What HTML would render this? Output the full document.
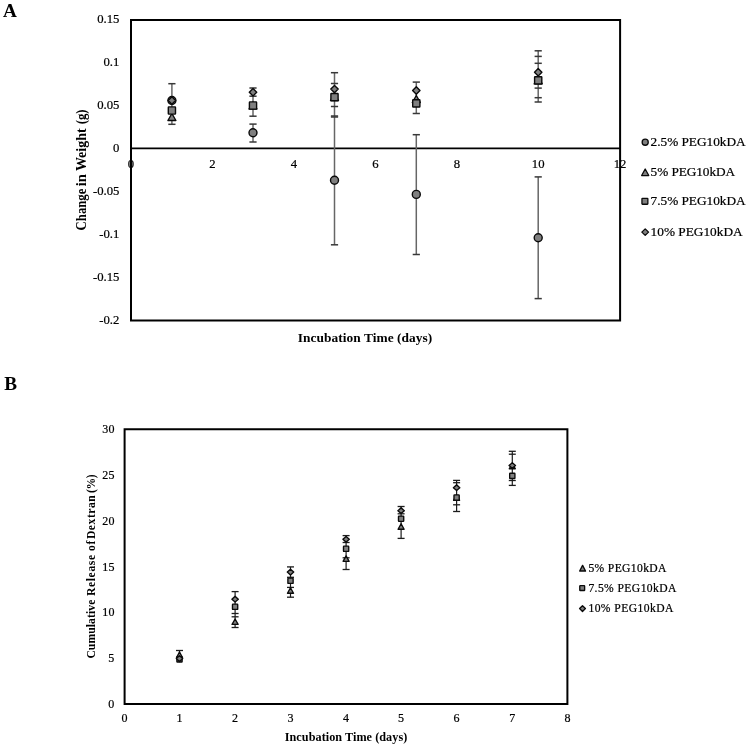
<!DOCTYPE html>
<html><head><meta charset="utf-8"><style>
html,body{margin:0;padding:0;background:#fff;}
svg{display:block;will-change:transform;}
text{font-family:"Liberation Serif",serif;fill:#000;stroke:#000;stroke-width:0.22px;}
text[font-weight=bold]{stroke-width:0;}
</style></head><body>
<svg width="750" height="746" viewBox="0 0 750 746">
<rect width="750" height="746" fill="#fff"/>
<path d="M131 20 L620.1 20 L620.1 320.6 L131 320.6 Z" fill="none" stroke="#000" stroke-width="2"/>
<line x1="131" y1="148.35" x2="620" y2="148.35" stroke="#000" stroke-width="1.85"/>
<line x1="171.90" y1="83.70" x2="171.90" y2="124.30" stroke="#666666" stroke-width="1.5"/>
<line x1="168.30" y1="83.70" x2="175.50" y2="83.70" stroke="#383838" stroke-width="1.5"/>
<line x1="168.30" y1="124.30" x2="175.50" y2="124.30" stroke="#383838" stroke-width="1.5"/>
<line x1="253.00" y1="88.00" x2="253.00" y2="116.20" stroke="#666666" stroke-width="1.5"/>
<line x1="253.00" y1="124.10" x2="253.00" y2="142.00" stroke="#666666" stroke-width="1.5"/>
<line x1="249.40" y1="88.00" x2="256.60" y2="88.00" stroke="#383838" stroke-width="1.5"/>
<line x1="249.40" y1="96.20" x2="256.60" y2="96.20" stroke="#383838" stroke-width="1.5"/>
<line x1="249.40" y1="116.20" x2="256.60" y2="116.20" stroke="#383838" stroke-width="1.5"/>
<line x1="249.40" y1="124.10" x2="256.60" y2="124.10" stroke="#383838" stroke-width="1.5"/>
<line x1="249.40" y1="142.00" x2="256.60" y2="142.00" stroke="#383838" stroke-width="1.5"/>
<line x1="334.50" y1="72.70" x2="334.50" y2="244.80" stroke="#666666" stroke-width="1.5"/>
<line x1="330.90" y1="72.70" x2="338.10" y2="72.70" stroke="#383838" stroke-width="1.5"/>
<line x1="330.90" y1="83.50" x2="338.10" y2="83.50" stroke="#383838" stroke-width="1.5"/>
<line x1="330.90" y1="106.50" x2="338.10" y2="106.50" stroke="#383838" stroke-width="1.5"/>
<line x1="330.90" y1="116.00" x2="338.10" y2="116.00" stroke="#383838" stroke-width="1.5"/>
<line x1="330.90" y1="117.00" x2="338.10" y2="117.00" stroke="#383838" stroke-width="1.5"/>
<line x1="330.90" y1="244.80" x2="338.10" y2="244.80" stroke="#383838" stroke-width="1.5"/>
<line x1="416.30" y1="82.10" x2="416.30" y2="113.50" stroke="#666666" stroke-width="1.5"/>
<line x1="416.30" y1="134.70" x2="416.30" y2="254.50" stroke="#666666" stroke-width="1.5"/>
<line x1="412.70" y1="82.10" x2="419.90" y2="82.10" stroke="#383838" stroke-width="1.5"/>
<line x1="412.70" y1="113.50" x2="419.90" y2="113.50" stroke="#383838" stroke-width="1.5"/>
<line x1="412.70" y1="134.70" x2="419.90" y2="134.70" stroke="#383838" stroke-width="1.5"/>
<line x1="412.70" y1="254.50" x2="419.90" y2="254.50" stroke="#383838" stroke-width="1.5"/>
<line x1="538.20" y1="50.80" x2="538.20" y2="102.00" stroke="#666666" stroke-width="1.5"/>
<line x1="538.20" y1="176.90" x2="538.20" y2="298.60" stroke="#666666" stroke-width="1.5"/>
<line x1="534.60" y1="50.80" x2="541.80" y2="50.80" stroke="#383838" stroke-width="1.5"/>
<line x1="534.60" y1="56.40" x2="541.80" y2="56.40" stroke="#383838" stroke-width="1.5"/>
<line x1="534.60" y1="63.30" x2="541.80" y2="63.30" stroke="#383838" stroke-width="1.5"/>
<line x1="534.60" y1="88.10" x2="541.80" y2="88.10" stroke="#383838" stroke-width="1.5"/>
<line x1="534.60" y1="97.70" x2="541.80" y2="97.70" stroke="#383838" stroke-width="1.5"/>
<line x1="534.60" y1="102.00" x2="541.80" y2="102.00" stroke="#383838" stroke-width="1.5"/>
<line x1="534.60" y1="176.90" x2="541.80" y2="176.90" stroke="#383838" stroke-width="1.5"/>
<line x1="534.60" y1="298.60" x2="541.80" y2="298.60" stroke="#383838" stroke-width="1.5"/>
<circle cx="171.90" cy="100.50" r="4.00" fill="#7f7f7f" stroke="#0a0a0a" stroke-width="1.4"/>
<path d="M171.90 113.50L175.90 120.50L167.90 120.50Z" fill="#7f7f7f" stroke="#0a0a0a" stroke-width="1.4" stroke-linejoin="round"/>
<rect x="168.30" y="106.90" width="7.20" height="7.20" rx="0.5" fill="#7f7f7f" stroke="#0a0a0a" stroke-width="1.4"/>
<path d="M171.90 96.80L175.60 100.50L171.90 104.20L168.20 100.50Z" fill="#7f7f7f" stroke="#0a0a0a" stroke-width="1.4" stroke-linejoin="round"/>
<circle cx="253.00" cy="132.80" r="4.00" fill="#7f7f7f" stroke="#0a0a0a" stroke-width="1.4"/>
<path d="M253.00 102.00L257.00 109.00L249.00 109.00Z" fill="#7f7f7f" stroke="#0a0a0a" stroke-width="1.4" stroke-linejoin="round"/>
<rect x="249.40" y="101.90" width="7.20" height="7.20" rx="0.5" fill="#7f7f7f" stroke="#0a0a0a" stroke-width="1.4"/>
<path d="M253.00 88.50L256.70 92.20L253.00 95.90L249.30 92.20Z" fill="#7f7f7f" stroke="#0a0a0a" stroke-width="1.4" stroke-linejoin="round"/>
<circle cx="334.50" cy="180.30" r="4.00" fill="#7f7f7f" stroke="#0a0a0a" stroke-width="1.4"/>
<path d="M334.50 93.60L338.50 100.60L330.50 100.60Z" fill="#7f7f7f" stroke="#0a0a0a" stroke-width="1.4" stroke-linejoin="round"/>
<rect x="330.90" y="93.50" width="7.20" height="7.20" rx="0.5" fill="#7f7f7f" stroke="#0a0a0a" stroke-width="1.4"/>
<path d="M334.50 85.40L338.20 89.10L334.50 92.80L330.80 89.10Z" fill="#7f7f7f" stroke="#0a0a0a" stroke-width="1.4" stroke-linejoin="round"/>
<circle cx="416.30" cy="194.40" r="4.00" fill="#7f7f7f" stroke="#0a0a0a" stroke-width="1.4"/>
<path d="M416.30 95.50L420.30 102.50L412.30 102.50Z" fill="#7f7f7f" stroke="#0a0a0a" stroke-width="1.4" stroke-linejoin="round"/>
<rect x="412.70" y="99.80" width="7.20" height="7.20" rx="0.5" fill="#7f7f7f" stroke="#0a0a0a" stroke-width="1.4"/>
<path d="M416.30 86.80L420.00 90.50L416.30 94.20L412.60 90.50Z" fill="#7f7f7f" stroke="#0a0a0a" stroke-width="1.4" stroke-linejoin="round"/>
<circle cx="538.20" cy="237.80" r="4.00" fill="#7f7f7f" stroke="#0a0a0a" stroke-width="1.4"/>
<path d="M538.20 76.90L542.20 83.90L534.20 83.90Z" fill="#7f7f7f" stroke="#0a0a0a" stroke-width="1.4" stroke-linejoin="round"/>
<rect x="534.60" y="76.80" width="7.20" height="7.20" rx="0.5" fill="#7f7f7f" stroke="#0a0a0a" stroke-width="1.4"/>
<path d="M538.20 68.50L541.90 72.20L538.20 75.90L534.50 72.20Z" fill="#7f7f7f" stroke="#0a0a0a" stroke-width="1.4" stroke-linejoin="round"/>
<path d="M124.6 429.3 L567.4 429.3 L567.4 704.1 L124.6 704.1 Z" fill="none" stroke="#000" stroke-width="2"/>
<line x1="179.50" y1="650.50" x2="179.50" y2="659.00" stroke="#1c1c1c" stroke-width="1.2"/>
<line x1="176.00" y1="650.50" x2="183.00" y2="650.50" stroke="#1c1c1c" stroke-width="1.3"/>
<line x1="235.10" y1="591.60" x2="235.10" y2="627.50" stroke="#1c1c1c" stroke-width="1.2"/>
<line x1="231.60" y1="591.60" x2="238.60" y2="591.60" stroke="#1c1c1c" stroke-width="1.3"/>
<line x1="231.60" y1="613.50" x2="238.60" y2="613.50" stroke="#1c1c1c" stroke-width="1.3"/>
<line x1="231.60" y1="616.80" x2="238.60" y2="616.80" stroke="#1c1c1c" stroke-width="1.3"/>
<line x1="231.60" y1="627.50" x2="238.60" y2="627.50" stroke="#1c1c1c" stroke-width="1.3"/>
<line x1="290.50" y1="566.90" x2="290.50" y2="597.20" stroke="#1c1c1c" stroke-width="1.2"/>
<line x1="287.00" y1="566.90" x2="294.00" y2="566.90" stroke="#1c1c1c" stroke-width="1.3"/>
<line x1="287.00" y1="577.30" x2="294.00" y2="577.30" stroke="#1c1c1c" stroke-width="1.3"/>
<line x1="287.00" y1="587.40" x2="294.00" y2="587.40" stroke="#1c1c1c" stroke-width="1.3"/>
<line x1="287.00" y1="597.20" x2="294.00" y2="597.20" stroke="#1c1c1c" stroke-width="1.3"/>
<line x1="346.10" y1="535.60" x2="346.10" y2="569.50" stroke="#1c1c1c" stroke-width="1.2"/>
<line x1="342.60" y1="535.60" x2="349.60" y2="535.60" stroke="#1c1c1c" stroke-width="1.3"/>
<line x1="342.60" y1="542.50" x2="349.60" y2="542.50" stroke="#1c1c1c" stroke-width="1.3"/>
<line x1="342.60" y1="557.80" x2="349.60" y2="557.80" stroke="#1c1c1c" stroke-width="1.3"/>
<line x1="342.60" y1="569.50" x2="349.60" y2="569.50" stroke="#1c1c1c" stroke-width="1.3"/>
<line x1="401.10" y1="506.50" x2="401.10" y2="538.40" stroke="#1c1c1c" stroke-width="1.2"/>
<line x1="397.60" y1="506.50" x2="404.60" y2="506.50" stroke="#1c1c1c" stroke-width="1.3"/>
<line x1="397.60" y1="513.80" x2="404.60" y2="513.80" stroke="#1c1c1c" stroke-width="1.3"/>
<line x1="397.60" y1="538.40" x2="404.60" y2="538.40" stroke="#1c1c1c" stroke-width="1.3"/>
<line x1="456.60" y1="480.40" x2="456.60" y2="511.50" stroke="#1c1c1c" stroke-width="1.2"/>
<line x1="453.10" y1="480.40" x2="460.10" y2="480.40" stroke="#1c1c1c" stroke-width="1.3"/>
<line x1="453.10" y1="482.70" x2="460.10" y2="482.70" stroke="#1c1c1c" stroke-width="1.3"/>
<line x1="453.10" y1="504.80" x2="460.10" y2="504.80" stroke="#1c1c1c" stroke-width="1.3"/>
<line x1="453.10" y1="511.50" x2="460.10" y2="511.50" stroke="#1c1c1c" stroke-width="1.3"/>
<line x1="512.30" y1="451.30" x2="512.30" y2="485.40" stroke="#1c1c1c" stroke-width="1.2"/>
<line x1="508.80" y1="451.30" x2="515.80" y2="451.30" stroke="#1c1c1c" stroke-width="1.3"/>
<line x1="508.80" y1="454.20" x2="515.80" y2="454.20" stroke="#1c1c1c" stroke-width="1.3"/>
<line x1="508.80" y1="480.50" x2="515.80" y2="480.50" stroke="#1c1c1c" stroke-width="1.3"/>
<line x1="508.80" y1="485.40" x2="515.80" y2="485.40" stroke="#1c1c1c" stroke-width="1.3"/>
<path d="M179.50 652.07L182.53 657.52L176.47 657.52Z" fill="#7f7f7f" stroke="#0a0a0a" stroke-width="1.35" stroke-linejoin="round"/>
<rect x="176.88" y="656.77" width="5.25" height="5.25" rx="0.5" fill="#7f7f7f" stroke="#0a0a0a" stroke-width="1.35"/>
<path d="M179.50 655.77L182.72 658.60L179.50 661.43L176.28 658.60Z" fill="#7f7f7f" stroke="#0a0a0a" stroke-width="1.35" stroke-linejoin="round"/>
<path d="M235.10 618.98L238.12 624.43L232.07 624.43Z" fill="#7f7f7f" stroke="#0a0a0a" stroke-width="1.35" stroke-linejoin="round"/>
<rect x="232.47" y="604.17" width="5.25" height="5.25" rx="0.5" fill="#7f7f7f" stroke="#0a0a0a" stroke-width="1.35"/>
<path d="M235.10 596.38L238.32 599.20L235.10 602.03L231.88 599.20Z" fill="#7f7f7f" stroke="#0a0a0a" stroke-width="1.35" stroke-linejoin="round"/>
<path d="M290.50 587.77L293.52 593.23L287.48 593.23Z" fill="#7f7f7f" stroke="#0a0a0a" stroke-width="1.35" stroke-linejoin="round"/>
<rect x="287.88" y="578.17" width="5.25" height="5.25" rx="0.5" fill="#7f7f7f" stroke="#0a0a0a" stroke-width="1.35"/>
<path d="M290.50 569.27L293.73 572.10L290.50 574.93L287.27 572.10Z" fill="#7f7f7f" stroke="#0a0a0a" stroke-width="1.35" stroke-linejoin="round"/>
<path d="M346.10 555.88L349.12 561.33L343.08 561.33Z" fill="#7f7f7f" stroke="#0a0a0a" stroke-width="1.35" stroke-linejoin="round"/>
<rect x="343.48" y="546.17" width="5.25" height="5.25" rx="0.5" fill="#7f7f7f" stroke="#0a0a0a" stroke-width="1.35"/>
<path d="M346.10 536.47L349.33 539.30L346.10 542.12L342.88 539.30Z" fill="#7f7f7f" stroke="#0a0a0a" stroke-width="1.35" stroke-linejoin="round"/>
<path d="M401.10 523.77L404.12 529.23L398.08 529.23Z" fill="#7f7f7f" stroke="#0a0a0a" stroke-width="1.35" stroke-linejoin="round"/>
<rect x="398.48" y="516.08" width="5.25" height="5.25" rx="0.5" fill="#7f7f7f" stroke="#0a0a0a" stroke-width="1.35"/>
<path d="M401.10 507.88L404.33 510.70L401.10 513.52L397.88 510.70Z" fill="#7f7f7f" stroke="#0a0a0a" stroke-width="1.35" stroke-linejoin="round"/>
<path d="M456.60 494.77L459.62 500.23L453.58 500.23Z" fill="#7f7f7f" stroke="#0a0a0a" stroke-width="1.35" stroke-linejoin="round"/>
<rect x="453.98" y="494.88" width="5.25" height="5.25" rx="0.5" fill="#7f7f7f" stroke="#0a0a0a" stroke-width="1.35"/>
<path d="M456.60 484.88L459.83 487.70L456.60 490.52L453.38 487.70Z" fill="#7f7f7f" stroke="#0a0a0a" stroke-width="1.35" stroke-linejoin="round"/>
<path d="M512.30 463.27L515.32 468.73L509.27 468.73Z" fill="#7f7f7f" stroke="#0a0a0a" stroke-width="1.35" stroke-linejoin="round"/>
<rect x="509.67" y="473.27" width="5.25" height="5.25" rx="0.5" fill="#7f7f7f" stroke="#0a0a0a" stroke-width="1.35"/>
<path d="M512.30 462.68L515.52 465.50L512.30 468.32L509.07 465.50Z" fill="#7f7f7f" stroke="#0a0a0a" stroke-width="1.35" stroke-linejoin="round"/>
<circle cx="645.20" cy="142.20" r="3.05" fill="#7f7f7f" stroke="#0a0a0a" stroke-width="1.3"/>
<path d="M645.20 169.05L648.75 175.55L641.65 175.55Z" fill="#7f7f7f" stroke="#0a0a0a" stroke-width="1.3" stroke-linejoin="round"/>
<rect x="641.95" y="198.35" width="5.90" height="5.90" rx="0.5" fill="#7f7f7f" stroke="#0a0a0a" stroke-width="1.3"/>
<path d="M645.20 228.85L648.55 232.10L645.20 235.35L641.85 232.10Z" fill="#7f7f7f" stroke="#0a0a0a" stroke-width="1.3" stroke-linejoin="round"/>
<path d="M582.60 565.38L585.52 571.03L579.68 571.03Z" fill="#7f7f7f" stroke="#0a0a0a" stroke-width="1.35" stroke-linejoin="round"/>
<rect x="579.78" y="585.68" width="4.85" height="4.85" rx="0.5" fill="#7f7f7f" stroke="#0a0a0a" stroke-width="1.35"/>
<path d="M582.50 605.77L585.42 608.60L582.50 611.43L579.58 608.60Z" fill="#7f7f7f" stroke="#0a0a0a" stroke-width="1.35" stroke-linejoin="round"/>
<text x="3.1" y="17.2" font-size="19.2" text-anchor="start" font-weight="bold" >A</text>
<text x="4.2" y="390" font-size="19.2" text-anchor="start" font-weight="bold" >B</text>
<text transform="translate(119.4 23.30) scale(0.95 1)" font-size="13.4" text-anchor="end">0.15</text>
<text transform="translate(119.4 66.20) scale(0.95 1)" font-size="13.4" text-anchor="end">0.1</text>
<text transform="translate(119.4 109.10) scale(0.95 1)" font-size="13.4" text-anchor="end">0.05</text>
<text transform="translate(119.4 152.00) scale(0.95 1)" font-size="13.4" text-anchor="end">0</text>
<text transform="translate(119.4 194.90) scale(0.95 1)" font-size="13.4" text-anchor="end">-0.05</text>
<text transform="translate(119.4 237.80) scale(0.95 1)" font-size="13.4" text-anchor="end">-0.1</text>
<text transform="translate(119.4 280.70) scale(0.95 1)" font-size="13.4" text-anchor="end">-0.15</text>
<text transform="translate(119.4 323.60) scale(0.95 1)" font-size="13.4" text-anchor="end">-0.2</text>
<text transform="translate(131.00 167.9) scale(0.95 1)" font-size="13.4" text-anchor="middle">0</text>
<text transform="translate(212.50 167.9) scale(0.95 1)" font-size="13.4" text-anchor="middle">2</text>
<text transform="translate(294.00 167.9) scale(0.95 1)" font-size="13.4" text-anchor="middle">4</text>
<text transform="translate(375.50 167.9) scale(0.95 1)" font-size="13.4" text-anchor="middle">6</text>
<text transform="translate(457.00 167.9) scale(0.95 1)" font-size="13.4" text-anchor="middle">8</text>
<text transform="translate(538.20 167.9) scale(0.95 1)" font-size="13.4" text-anchor="middle">10</text>
<text transform="translate(620.00 167.9) scale(0.95 1)" font-size="13.4" text-anchor="middle">12</text>
<text x="365" y="341.6" font-size="13.4" text-anchor="middle" font-weight="bold" textLength="134.5" lengthAdjust="spacing" >Incubation Time (days)</text>
<text transform="translate(85.6 240) rotate(-90)" x="9.60" font-size="13.9" font-weight="bold" textLength="41.80" lengthAdjust="spacingAndGlyphs">Change</text>
<text transform="translate(85.6 240) rotate(-90)" x="53.70" font-size="13.9" font-weight="bold" textLength="12.20" lengthAdjust="spacingAndGlyphs">in</text>
<text transform="translate(85.6 240) rotate(-90)" x="68.90" font-size="13.9" font-weight="bold" textLength="42.80" lengthAdjust="spacingAndGlyphs">Weight</text>
<text transform="translate(85.6 240) rotate(-90)" x="115.70" font-size="13.9" font-weight="bold" textLength="14.90" lengthAdjust="spacingAndGlyphs">(g)</text>
<text x="650.6" y="146.05" font-size="13.3" text-anchor="start" textLength="95" lengthAdjust="spacing" >2.5% PEG10kDA</text>
<text x="650.6" y="176.15" font-size="13.3" text-anchor="start" textLength="84.5" lengthAdjust="spacing" >5% PEG10kDA</text>
<text x="650.6" y="205.15" font-size="13.3" text-anchor="start" textLength="95" lengthAdjust="spacing" >7.5% PEG10kDA</text>
<text x="650.6" y="235.95" font-size="13.3" text-anchor="start" textLength="92" lengthAdjust="spacing" >10% PEG10kDA</text>
<text transform="translate(114.4 707.95) scale(0.92 1)" font-size="13.1" text-anchor="end">0</text>
<text transform="translate(114.4 662.20) scale(0.92 1)" font-size="13.1" text-anchor="end">5</text>
<text transform="translate(114.4 616.45) scale(0.92 1)" font-size="13.1" text-anchor="end">10</text>
<text transform="translate(114.4 570.70) scale(0.92 1)" font-size="13.1" text-anchor="end">15</text>
<text transform="translate(114.4 524.95) scale(0.92 1)" font-size="13.1" text-anchor="end">20</text>
<text transform="translate(114.4 479.20) scale(0.92 1)" font-size="13.1" text-anchor="end">25</text>
<text transform="translate(114.4 433.45) scale(0.92 1)" font-size="13.1" text-anchor="end">30</text>
<text transform="translate(124.60 722.0) scale(0.92 1)" font-size="13.1" text-anchor="middle">0</text>
<text transform="translate(179.50 722.0) scale(0.92 1)" font-size="13.1" text-anchor="middle">1</text>
<text transform="translate(235.10 722.0) scale(0.92 1)" font-size="13.1" text-anchor="middle">2</text>
<text transform="translate(290.50 722.0) scale(0.92 1)" font-size="13.1" text-anchor="middle">3</text>
<text transform="translate(346.10 722.0) scale(0.92 1)" font-size="13.1" text-anchor="middle">4</text>
<text transform="translate(401.10 722.0) scale(0.92 1)" font-size="13.1" text-anchor="middle">5</text>
<text transform="translate(456.60 722.0) scale(0.92 1)" font-size="13.1" text-anchor="middle">6</text>
<text transform="translate(512.30 722.0) scale(0.92 1)" font-size="13.1" text-anchor="middle">7</text>
<text transform="translate(567.40 722.0) scale(0.92 1)" font-size="13.1" text-anchor="middle">8</text>
<text x="346" y="740.8" font-size="12.2" text-anchor="middle" font-weight="bold" textLength="122.5" lengthAdjust="spacing" >Incubation Time (days)</text>
<text transform="translate(95.4 670) rotate(-90) scale(0.88 1)" x="12.95" font-size="13.2" font-weight="bold" textLength="66.93" lengthAdjust="spacing">Cumulative</text>
<text transform="translate(95.4 670) rotate(-90) scale(0.88 1)" x="84.09" font-size="13.2" font-weight="bold" textLength="46.70" lengthAdjust="spacing">Release</text>
<text transform="translate(95.4 670) rotate(-90) scale(0.88 1)" x="135.34" font-size="13.2" font-weight="bold" textLength="11.59" lengthAdjust="spacing">of</text>
<text transform="translate(95.4 670) rotate(-90) scale(0.88 1)" x="148.75" font-size="13.2" font-weight="bold" textLength="49.89" lengthAdjust="spacing">Dextran</text>
<text transform="translate(95.4 670) rotate(-90) scale(0.88 1)" x="201.02" font-size="13.2" font-weight="bold" textLength="21.36" lengthAdjust="spacing">(%)</text>
<text x="588.4" y="571.9" font-size="11.6" text-anchor="start" textLength="78" lengthAdjust="spacing" >5% PEG10kDA</text>
<text x="588.4" y="591.8" font-size="11.6" text-anchor="start" textLength="88" lengthAdjust="spacing" >7.5% PEG10kDA</text>
<text x="588.4" y="612.3" font-size="11.6" text-anchor="start" textLength="85" lengthAdjust="spacing" >10% PEG10kDA</text>
</svg>
</body></html>
